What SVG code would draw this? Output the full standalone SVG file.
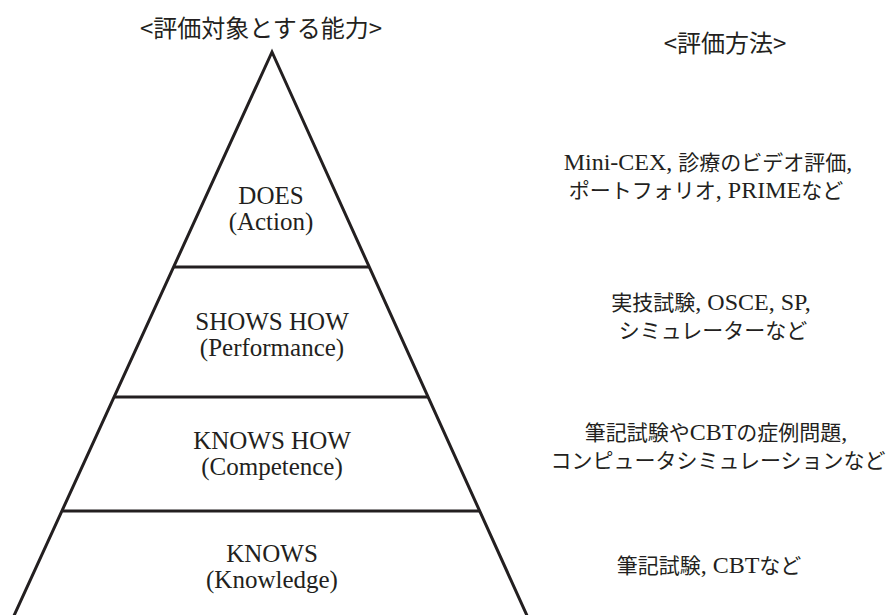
<svg xmlns="http://www.w3.org/2000/svg" width="887" height="615" viewBox="0 0 887 615">
<style>
.hd{font-family:"Noto Sans CJK JP","Noto Sans",sans-serif;font-size:24px;fill:#231f20;text-anchor:middle}
.lv{font-family:"Liberation Serif","DejaVu Serif",serif;font-size:25px;fill:#231f20;text-anchor:middle}
.md{font-family:"Liberation Serif","Noto Sans CJK JP",serif;font-size:24px;fill:#231f20;text-anchor:middle}
.j{font-family:"Noto Sans CJK JP",sans-serif;font-size:21px}
.ln{stroke:#231f20;stroke-width:3;fill:none}
</style>
<rect width="887" height="615" fill="#fff"/>
<g id="headers">
<text class="hd" x="261" y="37">&lt;評価対象とする能力&gt;</text>
<text class="hd" x="725" y="52">&lt;評価方法&gt;</text>
</g>
<g id="pyramid">
<polyline class="ln" points="12,620 272,52 529,620"/>
</g>
<g id="connectors">
<line class="ln" x1="174" y1="267" x2="369" y2="267"/>
<line class="ln" x1="115" y1="397" x2="429" y2="397"/>
<line class="ln" x1="63" y1="511" x2="480" y2="511"/>
</g>
<g id="does">
<text class="lv" x="271" y="204">DOES</text>
<text class="lv" x="271" y="230">(Action)</text>
</g>
<g id="shows-how">
<text class="lv" x="272" y="330">SHOWS HOW</text>
<text class="lv" x="272" y="356">(Performance)</text>
</g>
<g id="knows-how">
<text class="lv" x="272" y="449">KNOWS HOW</text>
<text class="lv" x="272" y="475">(Competence)</text>
</g>
<g id="knows">
<text class="lv" x="272" y="562">KNOWS</text>
<text class="lv" x="272" y="588">(Knowledge)</text>
</g>
<g id="methods">
<text class="md" x="708" y="170">Mini-CEX, <tspan class="j">診療のビデオ評価</tspan>,</text>
<text class="md" x="706" y="198"><tspan class="j">ポートフォリオ</tspan>, PRIME<tspan class="j">など</tspan></text>
<text class="md" x="711" y="310"><tspan class="j">実技試験</tspan>, OSCE, SP,</text>
<text class="md" x="713" y="338"><tspan class="j">シミュレーターなど</tspan></text>
<text class="md" x="716" y="440"><tspan class="j">筆記試験や</tspan>CBT<tspan class="j">の症例問題</tspan>,</text>
<text class="md" x="718" y="468"><tspan class="j">コンピュータシミュレーションなど</tspan></text>
<text class="md" x="709" y="573"><tspan class="j">筆記試験</tspan>, CBT<tspan class="j">など</tspan></text>
</g>
</svg>
